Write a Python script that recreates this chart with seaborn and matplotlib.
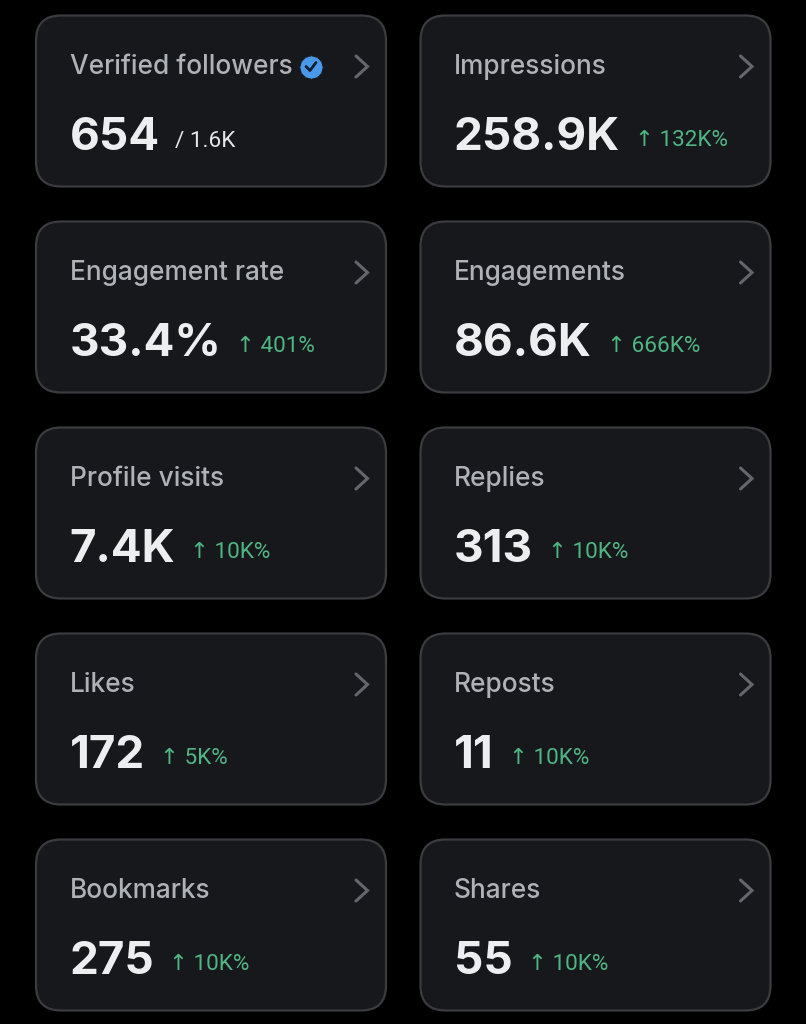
import matplotlib
matplotlib.use("Agg")
import matplotlib.pyplot as plt
import seaborn as sns
from matplotlib.patches import FancyBboxPatch

titles = ["Verified followers", "Impressions", "Engagement rate", "Engagements", "Profile visits",
          "Replies", "Likes", "Reposts", "Bookmarks", "Shares"]
values = ["654", "258.9K", "33.4%", "86.6K", "7.4K", "313", "172", "11", "275", "55"]
changes = ["/ 1.6K", "↑ 132K%", "↑ 401%", "↑ 666K%", "↑ 10K%", "↑ 10K%", "↑ 5K%", "↑ 10K%", "↑ 10K%", "↑ 10K%"]

sns.set_theme(style="white")
plt.rcParams['font.family'] = ['Inter', 'DejaVu Sans']

W, H = 806, 1024
fig = plt.figure(figsize=(W / 100, H / 100), dpi=100, facecolor="black")
ax = fig.add_axes([0, 0, 1, 1])
ax.set_xlim(0, W)
ax.set_ylim(H, 0)
ax.axis("off")

COL_X = [36, 420.5]
ROW_Y = [15.5, 221.5, 427.5, 633.5, 839.5]
CW, CH, R = 350, 171, 25
renderer = fig.canvas.get_renderer()

for i, (t, v, c) in enumerate(zip(titles, values, changes)):
    x0 = COL_X[i % 2]
    y0 = ROW_Y[i // 2]
    ax.add_patch(FancyBboxPatch((x0 + R, y0 + R), CW - 2 * R, CH - 2 * R,
                                boxstyle=f"round,pad={R},rounding_size={R}",
                                fc="#16181c", ec="#3a3c40", lw=1.6))
    tx = x0 + 33.5
    title = ax.text(tx, y0 + 58, t, color="#aeb1b6", fontsize=18.9, va="baseline", ha="left", weight="medium")
    val = ax.text(tx, y0 + 134.5, v, color="#eceef0", fontsize=33, va="baseline", ha="left", weight="bold")
    ve = val.get_window_extent(renderer)
    is_delta = c.startswith("↑")
    ax.text(ve.x1 + 15, y0 + 131, c, color="#4fb583" if is_delta else "#e4e6e8",
            fontsize=16.2, va="baseline", ha="left", family=['Roboto', 'DejaVu Sans'])
    # chevron
    cx = x0 + CW - 30
    cy = y0 + 51
    ax.plot([cx, cx + 11.5, cx], [cy - 10.5, cy, cy + 10.5], color="#63666b", lw=2.2,
            solid_capstyle="round", solid_joinstyle="miter")
    if i == 0:
        bx, by = 311, y0 + 51
        ax.scatter([bx], [by], s=310, marker=(12, 1, 0), color="#4a99e9", linewidths=0, zorder=3)
        ax.scatter([bx], [by], s=250, marker="o", color="#4a99e9", linewidths=0, zorder=3)
        ax.plot([bx - 5, bx - 1, bx + 5], [by, by + 4, by - 4], color="#10202f", lw=2, zorder=4)

fig.savefig("out.png", dpi=100, facecolor="black")
